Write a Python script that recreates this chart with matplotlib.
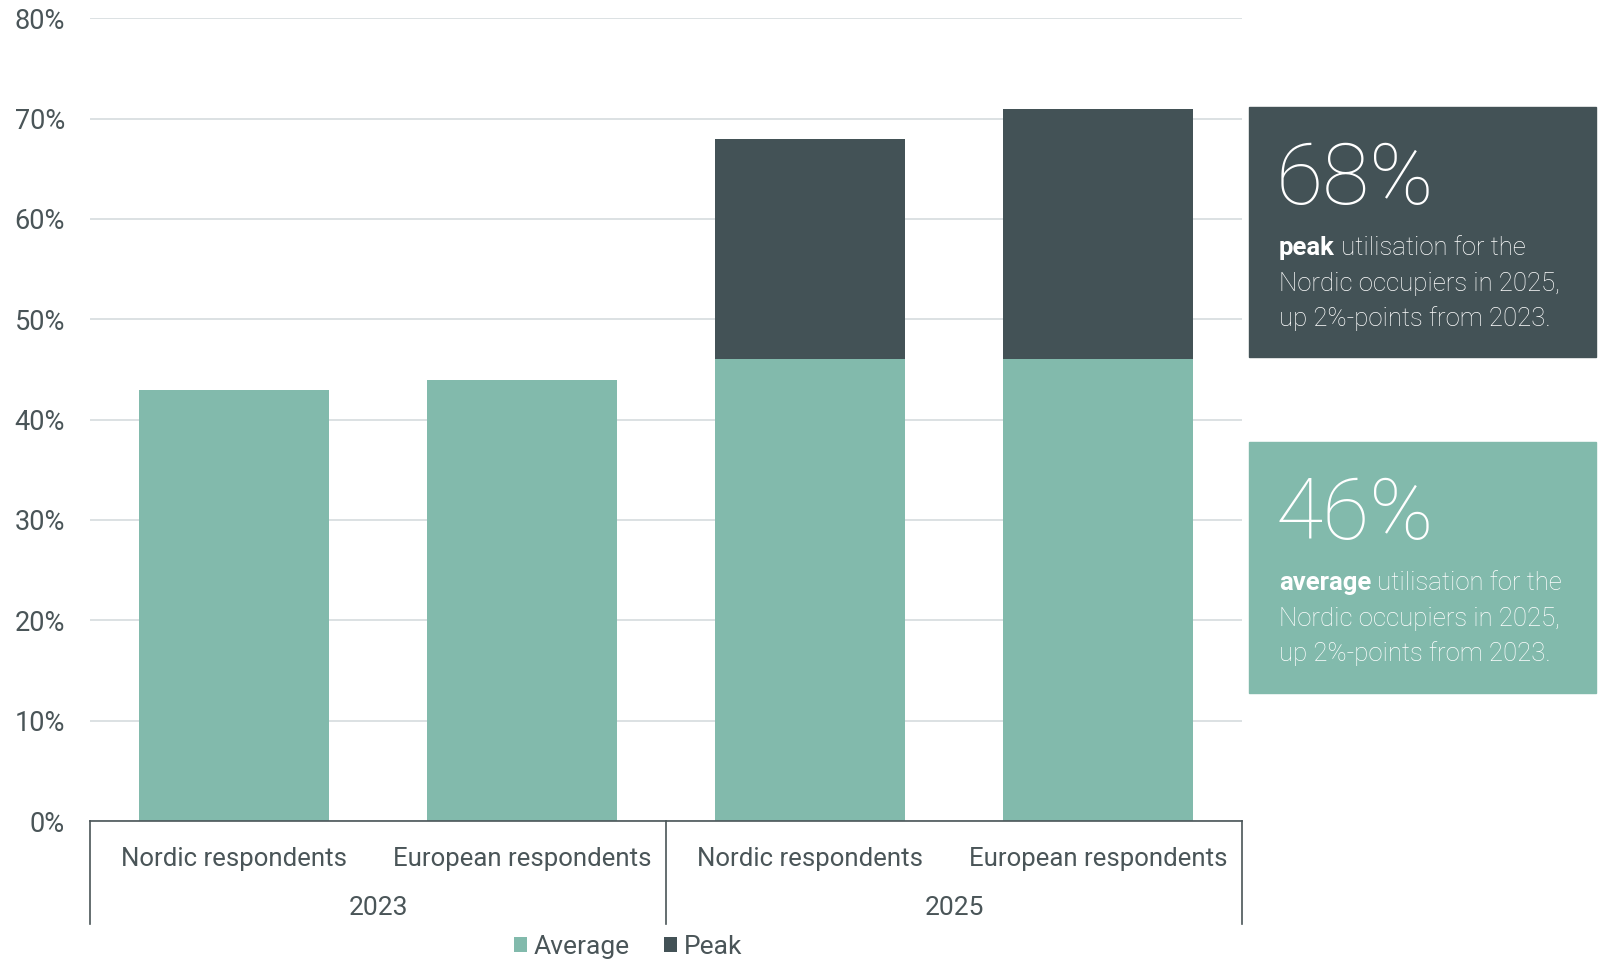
import numpy as np
import matplotlib
matplotlib.use("Agg")
import matplotlib.pyplot as plt
from matplotlib.patches import Rectangle
from matplotlib.text import Annotation
from matplotlib.transforms import blended_transform_factory

# ---------------------------------------------------------------------------
# Data – office utilisation by respondent group and survey year
# ---------------------------------------------------------------------------
years = ["2023", "2025"]
groups = ["Nordic respondents", "European respondents",
          "Nordic respondents", "European respondents"]
group_year = [0, 0, 1, 1]
average = [43, 44, 46, 46]
peak = [np.nan, np.nan, 68, 71]          # total height incl. average part

TEAL = "#82BAAC"
DARK = "#435256"
TEXT = "#4A5558"
GRID = "#D6DBDE"

plt.rcParams["font.family"] = ["Roboto", "DejaVu Sans"]

W, H = 1600, 960
fig = plt.figure(figsize=(W / 100, H / 100), dpi=100)
ax = fig.add_axes([90 / W, 1 - 821 / H, 1152 / W, (821 - 18.3) / H])


def px(x, y):
    """pixel position (from top-left) -> figure fraction"""
    return x / W, 1 - y / H


x = np.arange(len(groups))
avg = np.array(average, dtype=float)
pk = np.array(peak, dtype=float)

ax.bar(x, avg, width=0.66, color=TEAL, label="Average", zorder=2)
ax.bar(x, pk - avg, bottom=avg, width=0.66, color=DARK, label="Peak", zorder=2)

ax.set_xlim(-0.5, len(groups) - 0.5)
ax.set_ylim(0, 80)
ax.set_yticks(np.arange(0, 81, 10))
ax.set_yticklabels([f"{v}%" for v in range(0, 81, 10)])
ax.yaxis.grid(True, color=GRID, linewidth=1.2, zorder=0)
ax.set_axisbelow(True)
ax.tick_params(axis="y", length=0, pad=18, labelsize=19.5, labelcolor=TEXT)
ax.tick_params(axis="x", length=0, pad=19, labelsize=18.5, labelcolor=TEXT)
ax.set_xticks(x)
ax.set_xticklabels(groups)

for s in ["top", "right", "left"]:
    ax.spines[s].set_visible(False)
ax.spines["bottom"].set_color(TEXT)
ax.spines["bottom"].set_linewidth(1.2)

# year group separators and labels below the axis
tr = blended_transform_factory(ax.transData, ax.transAxes)
ax_h = 821 - 18.3
for xs in [-0.5, 1.5, 3.5]:
    ax.plot([xs, xs], [0, -(923.5 - 821) / ax_h], transform=tr, color=TEXT,
            lw=1.2, clip_on=False)
for i, yr in enumerate(years):
    members = [k for k, g in enumerate(group_year) if g == i]
    ax.text(np.mean(members), -(908 - 821) / ax_h, yr, transform=tr,
            ha="center", va="center", fontsize=19, color=TEXT)

fig.legend(loc="center", bbox_to_anchor=px(628, 947), ncol=2, frameon=False,
           fontsize=19, labelcolor=TEXT, handlelength=0.5,
           handleheight=0.5, handletextpad=0.25, columnspacing=1.3,
           borderaxespad=0)

# ---------------------------------------------------------------------------
# Call-out boxes on the right
# ---------------------------------------------------------------------------
BODY = 18.5
LINE = 35.7


def callout(top, bottom, color, value, bold, lines):
    x0, y0 = px(1249, bottom)
    x1, y1 = px(1596, top)
    fig.patches.append(Rectangle((x0, y0), x1 - x0, y1 - y0,
                                 transform=fig.transFigure, color=color,
                                 zorder=0))
    fig.text(*px(1276, top + 97), f"{value:.0f}%", fontsize=62,
             fontweight="light", color="white", va="baseline")
    base = top + 148
    t1 = fig.text(*px(1279, base), bold, fontsize=BODY, fontweight="bold",
                  color="white", va="baseline")
    fig.add_artist(Annotation(" " + lines[0], xy=(1, 0), xycoords=t1,
                              va="bottom", ha="left", fontsize=BODY,
                              fontweight="light", color="white", zorder=3))
    for k, ln in enumerate(lines[1:], start=1):
        fig.text(*px(1279, base + k * LINE), ln, fontsize=BODY,
                 fontweight="light", color="white", va="baseline")


callout(107, 357, DARK, pk[2], "peak",
        ["utilisation for the", "Nordic occupiers in 2025,",
         "up 2%-points from 2023."])
callout(442, 693, TEAL, avg[2], "average",
        ["utilisation for the", "Nordic occupiers in 2025,",
         "up 2%-points from 2023."])

fig.savefig("out.png", dpi=100)
